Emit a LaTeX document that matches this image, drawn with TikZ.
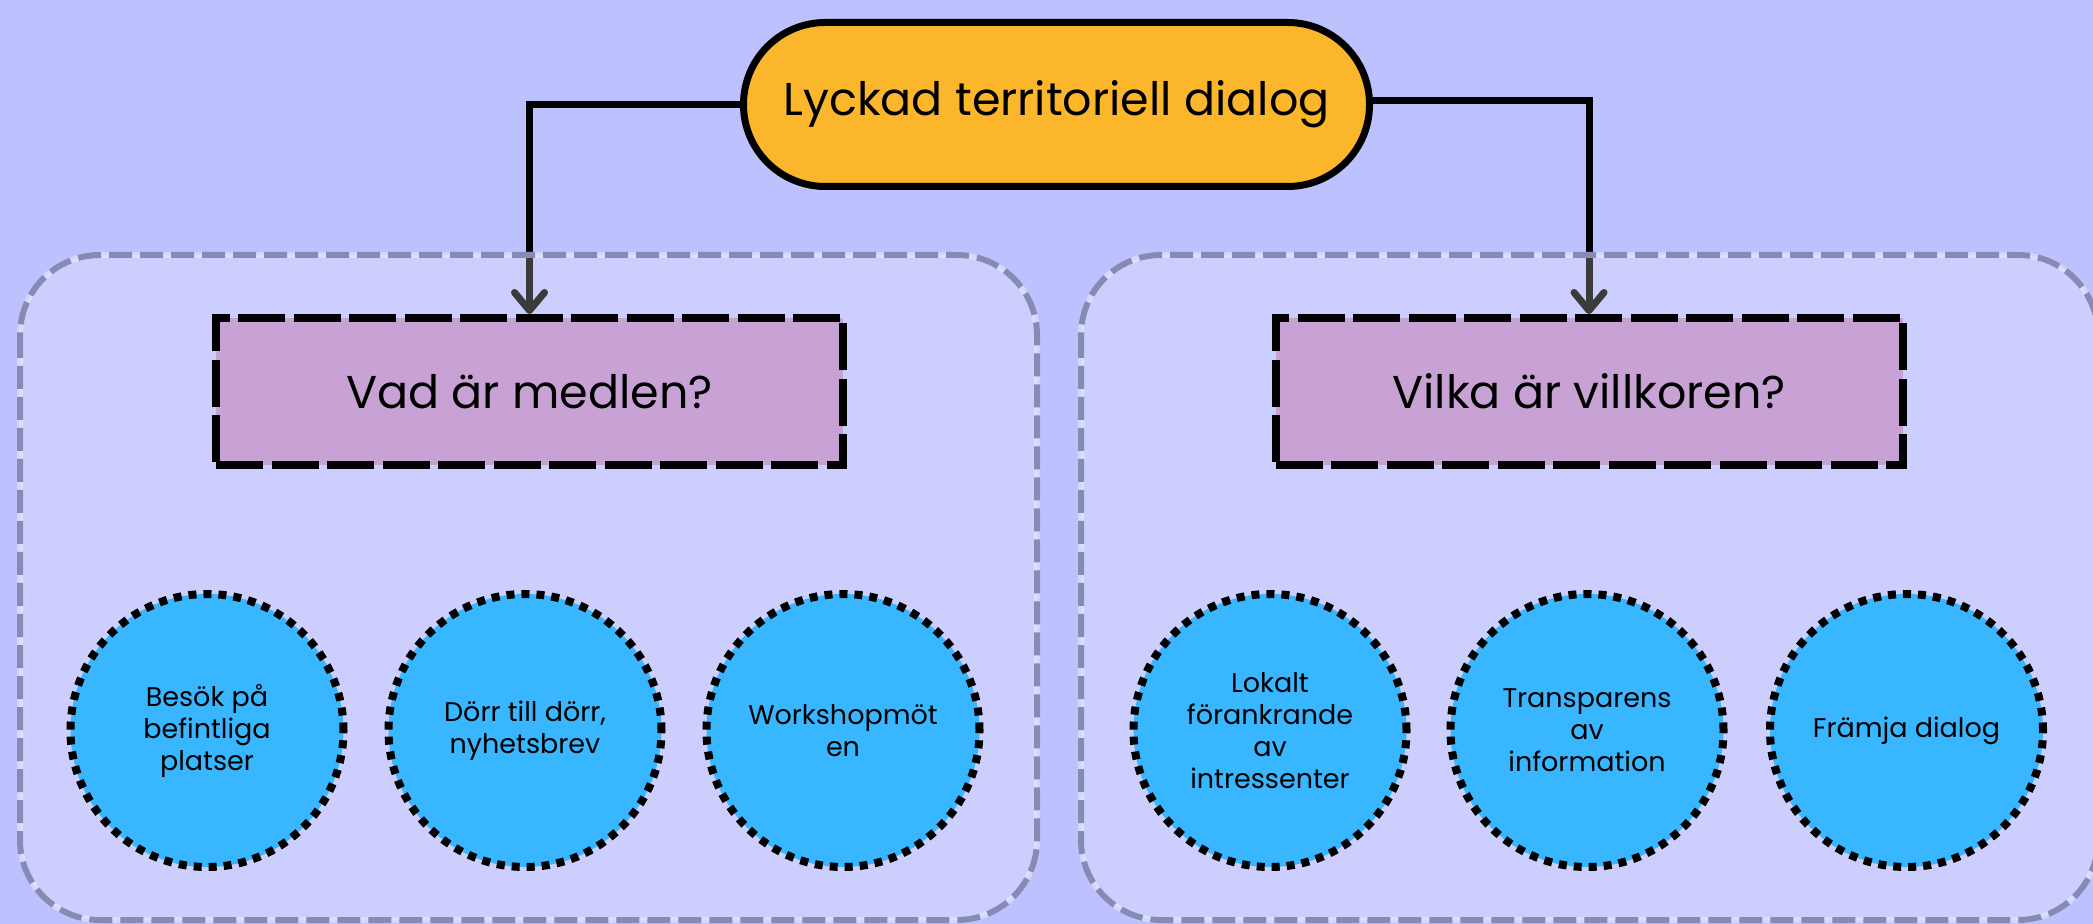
\documentclass[tikz,border=0pt]{standalone}
\usepackage{fontspec}
\setmainfont{Poppins}
\usetikzlibrary{arrows.meta}
\definecolor{bgc}{RGB}{189,193,254}
\definecolor{pillc}{RGB}{251,182,43}
\definecolor{purc}{RGB}{200,162,213}
\definecolor{circc}{RGB}{56,182,255}
\definecolor{contc}{RGB}{134,138,181}
\pgfdeclarelayer{arrowlayer}
\pgfdeclarelayer{boxlayer}
\pgfsetlayers{arrowlayer,boxlayer,main}
\tikzset{
  pill/.style={draw=black, line width=3.5pt, fill=pillc, rounded corners=40.9pt,
    minimum width=313pt, minimum height=82pt, inner sep=0pt,
    font=\fontsize{23}{28}\selectfont},
  qbox/.style={draw=black, line width=4pt, fill=purc, dash pattern=on 23.5pt off 4.25pt,
    minimum width=313.5pt, minimum height=73.5pt, inner sep=0pt,
    font=\fontsize{23}{28}\selectfont},
  item/.style={circle, draw=black, line width=4pt, fill=circc, dash pattern=on 4pt off 3.5pt,
    minimum size=136.5pt, inner sep=0pt, align=center,
    font=\fontsize{13.5}{16}\selectfont},
  conn/.style={draw=black, line width=3.5pt, -{Straight Barb[length=9pt,width=15pt,round]}},
  contunder/.style={draw=white, draw opacity=0.35, line width=3pt, fill=white, fill opacity=0.23, rounded corners=40pt},
  contline/.style={draw=contc, line width=3pt, dash pattern=on 11.5pt off 4pt, rounded corners=40pt},
}
\begin{document}
\begin{tikzpicture}[x=0.5pt,y=-0.5pt]
\useasboundingbox (0,0) rectangle (2093,924);
\begin{pgfonlayer}{arrowlayer}
\fill[bgc] (0,0) rectangle (2093,924);
\end{pgfonlayer}

\node[pill] (top) at (1056.5,104.5) {Lyckad territoriell dialog};
\node[qbox] (lbox) at (529.5,391.5) {Vad är medlen?};
\node[qbox] (rbox) at (1589,391.5) {Vilka är villkoren?};

\node[item] (c1) at (207,730.5) {Besök på\\befintliga\\platser};
\node[item] (c2) at (525,730.5) {Dörr till dörr,\\nyhetsbrev};
\node[item] (c3) at (843,730.5) {Workshopmöt\\en};
\node[item] (c4) at (1270,730.5) {Lokalt\\förankrande\\av\\intressenter};
\node[item] (c5) at (1587,730.5) {Transparens\\av\\information};
\node[item] (c6) at (1906.5,730.5) {Främja dialog};

\begin{pgfonlayer}{arrowlayer}
\draw[conn] (top.west) -| (lbox.north);
\draw[conn] ([yshift=2pt]top.east) -| (rbox.north);
\end{pgfonlayer}

\begin{pgfonlayer}{boxlayer}
\path[contunder] (20,255) rectangle (1037,920);
\path[contunder] (1081,255) rectangle (2098,920);
\draw[contline] (20,255) rectangle (1037,920);
\draw[contline] (1081,255) rectangle (2098,920);
\end{pgfonlayer}
\end{tikzpicture}
\end{document}
